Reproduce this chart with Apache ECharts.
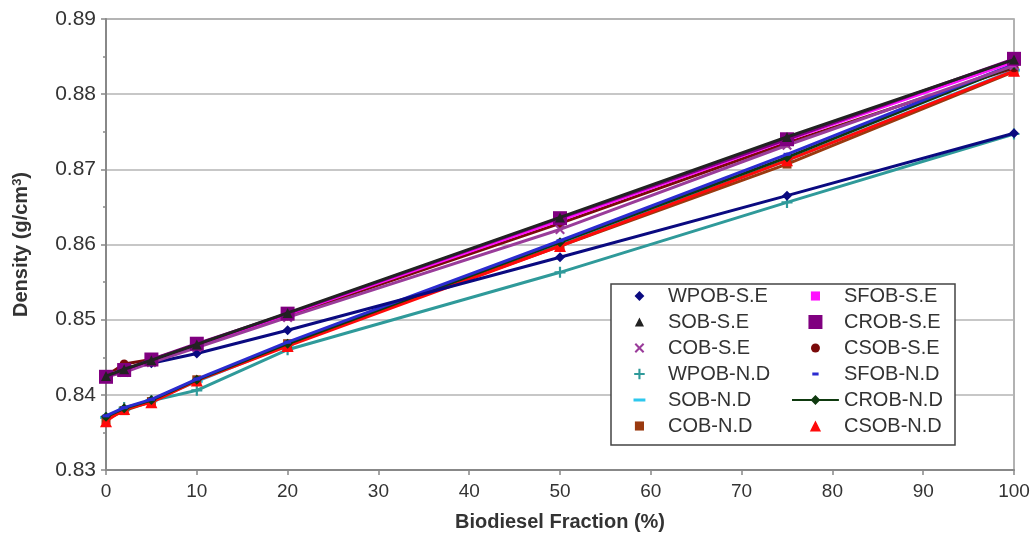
<!DOCTYPE html>
<html>
<head>
<meta charset="utf-8">
<script src="https://cdn.jsdelivr.net/npm/echarts@6/dist/echarts.min.js"></script>
<style>html,body{margin:0;padding:0;background:#fff;}#chart{width:1033px;height:538px;}</style>
</head>
<body>
<div id="chart"></div>
<script>
// ---- data ----
var fractions = [0, 2, 5, 10, 20, 50, 75, 100];
var seriesNames = ['WPOB-S.E', 'SOB-S.E', 'COB-S.E', 'WPOB-N.D', 'SOB-N.D', 'COB-N.D',
                   'SFOB-S.E', 'CROB-S.E', 'CSOB-S.E', 'SFOB-N.D', 'CROB-N.D', 'CSOB-N.D'];
var wpobSE = [0.8424, 0.8435, 0.8442, 0.8455, 0.8486, 0.8583, 0.8665, 0.8748];
var sobSE  = [0.8425, 0.8434, 0.8446, 0.8467, 0.8509, 0.8636, 0.8743, 0.8846];
var cobSE  = [0.8424, 0.8430, 0.8443, 0.8463, 0.8503, 0.8620, 0.8732, 0.8838];
var sfobSE = [0.8426, 0.8433, 0.8446, 0.8467, 0.8507, 0.8632, 0.8739, 0.8843];
var crobSE = [0.8424, 0.8433, 0.8447, 0.8468, 0.8508, 0.8635, 0.8740, 0.8847];
var csobSE = [0.8425, 0.8441, 0.8447, 0.8466, 0.8505, 0.8628, 0.8735, 0.8835];
var wpobND = [0.8370, 0.8383, 0.8392, 0.8406, 0.8460, 0.8563, 0.8656, 0.8747];
var sobND  = [0.8370, 0.8380, 0.8392, 0.8418, 0.8466, 0.8600, 0.8712, 0.8832];
var cobND  = [0.8367, 0.8379, 0.8391, 0.8420, 0.8468, 0.8598, 0.8707, 0.8830];
var sfobND = [0.8372, 0.8383, 0.8394, 0.8421, 0.8470, 0.8605, 0.8720, 0.8840];
var crobND = [0.8371, 0.8382, 0.8393, 0.8420, 0.8468, 0.8603, 0.8716, 0.8838];
var csobND = [0.8365, 0.8381, 0.8390, 0.8419, 0.8465, 0.8598, 0.8712, 0.8831];
var yTicks = [0.83, 0.84, 0.85, 0.86, 0.87, 0.88, 0.89];
var xTicks = [0, 10, 20, 30, 40, 50, 60, 70, 80, 90, 100];

// ---- styles ----
var FONT = '"Liberation Sans", Arial, sans-serif';
var X_PATH = 'path://M0,1.5L1.5,0L5,3.5L8.5,0L10,1.5L6.5,5L10,8.5L8.5,10L5,6.5L1.5,10L0,8.5L3.5,5Z';
var PLUS_PATH = 'path://M4,0H6V4H10V6H6V10H4V6H0V4H4Z';

// legend icon paths (box 67x20 units, 0.7px per unit, centred)
function box(p) { return 'path://M0,0M67,20' + p; }
function sq(s) { var h = s / 2; return 'M' + (33.5 - h) + ',' + (10 - h) + 'H' + (33.5 + h) + 'V' + (10 + h) + 'H' + (33.5 - h) + 'Z'; }
function rc(w, hh) { var a = w / 2, b = hh / 2; return 'M' + (33.5 - a) + ',' + (10 - b) + 'H' + (33.5 + a) + 'V' + (10 + b) + 'H' + (33.5 - a) + 'Z'; }
function dia(s) { var h = s / 2; return 'M33.5,' + (10 - h) + 'L' + (33.5 + h) + ',10L33.5,' + (10 + h) + 'L' + (33.5 - h) + ',10Z'; }
function tri(s) { var h = s / 2; return 'M33.5,' + (10 - h) + 'L' + (33.5 + h) + ',' + (10 + h) + 'H' + (33.5 - h) + 'Z'; }
function circ(r) { return 'M33.5,' + (10 - r) + 'A' + r + ',' + r + ' 0 1,1 33.5,' + (10 + r) + 'A' + r + ',' + r + ' 0 1,1 33.5,' + (10 - r) + 'Z'; }
function xs(s) {
  var h = s / 2, t = s * 0.15, cx = 33.5, cy = 10;
  return 'M' + (cx - h) + ',' + (cy - h + t) + 'L' + (cx - h + t) + ',' + (cy - h) + 'L' + cx + ',' + (cy - t) +
    'L' + (cx + h - t) + ',' + (cy - h) + 'L' + (cx + h) + ',' + (cy - h + t) + 'L' + (cx + t) + ',' + cy +
    'L' + (cx + h) + ',' + (cy + h - t) + 'L' + (cx + h - t) + ',' + (cy + h) + 'L' + cx + ',' + (cy + t) +
    'L' + (cx - h + t) + ',' + (cy + h) + 'L' + (cx - h) + ',' + (cy + h - t) + 'L' + (cx - t) + ',' + cy + 'Z';
}
function plus(s) { var t = s * 0.1; return rc(s, 2 * t) + rc(2 * t, s); }

var defs = [
  { name: 'WPOB-S.E', data: wpobSE, color: '#0a0a80', symbol: 'diamond', size: 10, icon: box(dia(14)) },
  { name: 'SOB-S.E',  data: sobSE,  color: '#222222', symbol: 'triangle', size: 10, icon: box(tri(13)) },
  { name: 'COB-S.E',  data: cobSE,  color: '#9a3c9a', symbol: X_PATH, size: 10, icon: box(xs(14)) },
  { name: 'WPOB-N.D', data: wpobND, color: '#2f9a9a', symbol: PLUS_PATH, size: 11, icon: box(plus(15)) },
  { name: 'SOB-N.D',  data: sobND,  color: '#2ec8ee', symbol: 'rect', size: [12, 3], icon: box(rc(17, 4.3)) },
  { name: 'COB-N.D',  data: cobND,  color: '#9a3a10', symbol: 'rect', size: 9, icon: box(sq(13)) },
  { name: 'SFOB-S.E', data: sfobSE, color: '#ff10ff', symbol: 'rect', size: 9, icon: box(sq(13)) },
  { name: 'CROB-S.E', data: crobSE, color: '#800080', symbol: 'rect', size: 14, icon: box(sq(20)) },
  { name: 'CSOB-S.E', data: csobSE, color: '#7a0a0a', symbol: 'circle', size: 9, icon: box(circ(6.4)) },
  { name: 'SFOB-N.D', data: sfobND, color: '#2b2bd0', symbol: 'rect', size: [7, 3], icon: box(rc(9, 4.3)) },
  { name: 'CROB-N.D', data: crobND, color: '#0f3a0f', symbol: 'diamond', size: 10, icon: box('M0,8.6H67V11.4H0Z' + dia(14)) },
  { name: 'CSOB-N.D', data: csobND, color: '#ff0a0a', symbol: 'triangle', size: 12, icon: box(tri(16)) }
];

// draw order (last on top)
var drawOrder = ['WPOB-N.D', 'SOB-N.D', 'COB-N.D', 'CSOB-N.D', 'CSOB-S.E', 'CROB-N.D', 'SFOB-N.D',
                 'WPOB-S.E', 'COB-S.E', 'SFOB-S.E', 'CROB-S.E', 'SOB-S.E'];

var series = drawOrder.map(function (nm, i) {
  var d = defs.filter(function (e) { return e.name === nm; })[0];
  return {
    name: d.name,
    type: 'line',
    z: 2 + i * 0.01,
    data: fractions.map(function (x, k) { return [x, d.data[k]]; }),
    symbol: d.symbol,
    symbolSize: d.size,
    symbolKeepAspect: false,
    lineStyle: { color: d.color, width: 3 },
    itemStyle: { color: d.color, borderWidth: 0 },
    emphasis: { disabled: true },
    animation: false
  };
});

function legendData(names) {
  return names.map(function (nm) {
    var d = defs.filter(function (e) { return e.name === nm; })[0];
    return { name: nm, icon: d.icon, itemStyle: { color: d.color } };
  });
}

var legendCommon = {
  orient: 'vertical',
  itemWidth: 47,
  itemHeight: 14,
  itemGap: 6,
  padding: 0,
  selectedMode: false,
  symbolKeepAspect: true,
  itemStyle: { borderWidth: 0 },
  textStyle: { fontFamily: FONT, fontSize: 20, lineHeight: 20, color: '#333' },
  top: 286,
  z: 10
};

var chart = echarts.init(document.getElementById('chart'), null, { renderer: 'canvas' });
chart.setOption({
  backgroundColor: '#ffffff',
  animation: false,
  grid: { left: 106, right: 19, top: 19, bottom: 68, show: true, borderColor: '#999', borderWidth: 1.5, backgroundColor: 'transparent' },
  xAxis: {
    type: 'value', min: xTicks[0], max: xTicks[xTicks.length - 1], interval: 10,
    name: 'Biodiesel Fraction (%)', nameLocation: 'middle', nameGap: 42,
    nameTextStyle: { fontFamily: FONT, fontSize: 20, fontWeight: 'bold', color: '#333' },
    axisLine: { show: true, lineStyle: { color: '#888', width: 2 } },
    axisTick: { show: true, length: 5, lineStyle: { color: '#888', width: 1.5 } },
    axisLabel: { fontFamily: FONT, fontSize: 19, color: '#333', margin: 12 },
    splitLine: { show: false }
  },
  yAxis: {
    type: 'value', min: yTicks[0], max: yTicks[yTicks.length - 1], interval: 0.01,
    name: 'Density (g/cm{sup|3})', nameLocation: 'middle', nameGap: 74,
    nameTextStyle: { fontFamily: FONT, fontSize: 20, fontWeight: 'bold', color: '#333',
      rich: { sup: { fontFamily: FONT, fontSize: 13, fontWeight: 'bold', color: '#333', verticalAlign: 'top', padding: [0, 0, 8, 0] } } },
    axisLine: { show: true, lineStyle: { color: '#888', width: 2 } },
    axisTick: { show: true, length: 5, lineStyle: { color: '#888', width: 1.5 } },
    minorTick: { show: true, splitNumber: 2, length: 3, lineStyle: { color: '#888', width: 1.5 } },
    axisLabel: { fontFamily: FONT, fontSize: 21, color: '#333', margin: 10, formatter: function (v) { return v.toFixed(2); } },
    splitLine: { show: true, lineStyle: { color: '#b4b4b4', width: 1.5 } }
  },
  legend: [
    Object.assign({}, legendCommon, { left: 616, data: legendData(seriesNames.slice(0, 6)) }),
    Object.assign({}, legendCommon, { left: 792, data: legendData(seriesNames.slice(6, 12)) })
  ],
  graphic: [{
    type: 'rect', z: 5,
    shape: { x: 611, y: 284, width: 344, height: 161 },
    style: { fill: '#fff', stroke: '#444', lineWidth: 1.5 }
  }],
  series: series
});
</script>
</body>
</html>
